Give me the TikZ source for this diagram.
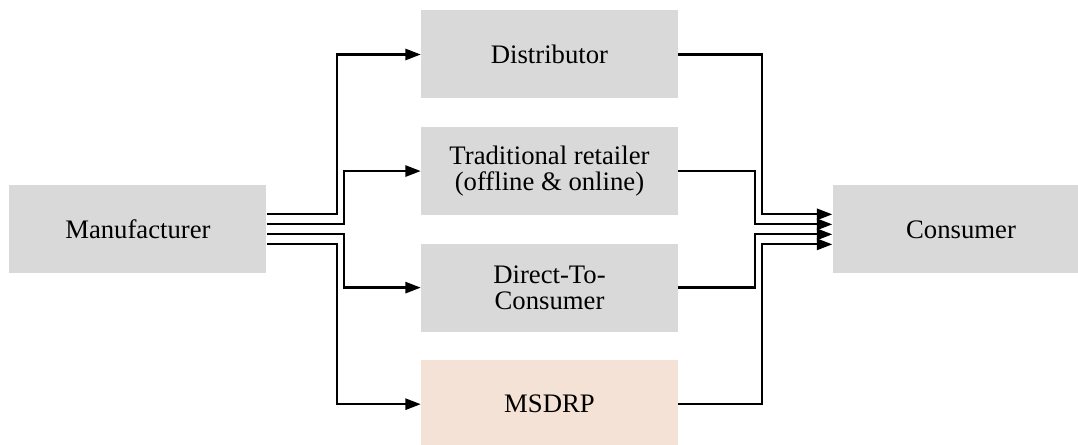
\documentclass[tikz,border=0pt]{standalone}
\usepackage{fontspec}
\setmainfont{Liberation Serif}
\usetikzlibrary{arrows.meta,positioning,calc}
\definecolor{boxgray}{HTML}{D9D9D9}
\definecolor{boxpeach}{HTML}{F4E2D6}

\begin{document}
\begin{tikzpicture}[
  box/.style={minimum width=6.425cm, minimum height=2.2cm, fill=boxgray,
              align=center, inner sep=0pt, font=\fontsize{19}{18.5}\selectfont},
  arr/.style={-{Triangle[length=11pt,width=8pt]}, line width=1.6pt},
  node distance=0.7cm
]
  \clip (0,0) rectangle (26.95,-11.125);

  \node[box] (dist) at (13.7375,-1.3625) {Distributor};
  \node[box, below=of dist] (trad) {Traditional retailer\\(offline \& online)};
  \node[box, below=of trad] (dtc) {Direct-To-\\Consumer};
  \node[box, below=of dtc, fill=boxpeach] (msdrp) {MSDRP};
  \node[box, left=3.85cm of $(trad.south west)!0.5!(dtc.north west)$] (manu) {Manufacturer};
  \node[box, right=3.85cm of $(trad.south east)!0.5!(dtc.north east)$] (cons) {Consumer};

  % manufacturer to channels
  \draw[arr] ([yshift=0.375cm]manu.east)  -- ++(1.75,0)  |- (dist.west);
  \draw[arr] ([yshift=0.125cm]manu.east)  -- ++(1.925,0) |- (trad.west);
  \draw[arr] ([yshift=-0.125cm]manu.east) -- ++(1.925,0) |- (dtc.west);
  \draw[arr] ([yshift=-0.375cm]manu.east) -- ++(1.75,0)  |- (msdrp.west);

  % channels to consumer
  \draw[arr] (dist.east)  -| ([xshift=-1.75cm,yshift=0.375cm]cons.west)   -- ([yshift=0.375cm]cons.west);
  \draw[arr] (trad.east)  -| ([xshift=-1.925cm,yshift=0.125cm]cons.west)  -- ([yshift=0.125cm]cons.west);
  \draw[arr] (dtc.east)   -| ([xshift=-1.925cm,yshift=-0.125cm]cons.west) -- ([yshift=-0.125cm]cons.west);
  \draw[arr] (msdrp.east) -| ([xshift=-1.75cm,yshift=-0.375cm]cons.west)  -- ([yshift=-0.375cm]cons.west);
\end{tikzpicture}
\end{document}
